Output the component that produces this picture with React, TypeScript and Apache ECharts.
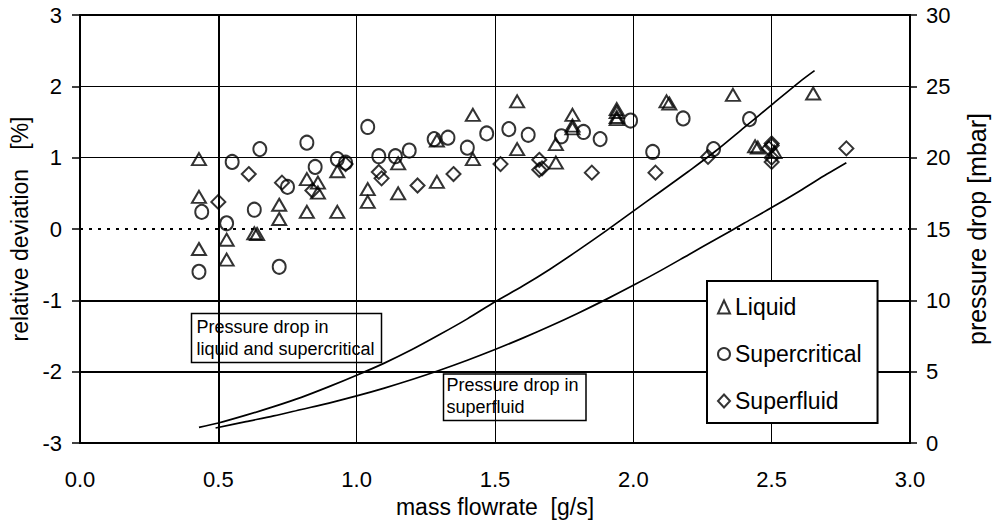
import React, { useEffect, useRef } from "react";
import * as echarts from "echarts";

const FONT = "'Liberation Sans', Arial, Helvetica, sans-serif";

const xTickValues = [0, 0.5, 1.0, 1.5, 2.0, 2.5, 3.0];
const leftTickValues = [-3, -2, -1, 0, 1, 2, 3];
const rightTickValues = [0, 5, 10, 15, 20, 25, 30];

// relative deviation [%] vs mass flowrate [g/s]
const liquidPoints: [number, number][] = [
  [0.43, 0.98], [0.43, 0.45], [0.43, -0.28], [0.53, -0.15], [0.53, -0.43],
  [0.63, -0.06], [0.64, -0.07], [0.72, 0.34], [0.72, 0.14], [0.82, 0.70],
  [0.82, 0.24], [0.86, 0.65], [0.86, 0.51], [0.93, 0.81], [0.93, 0.24],
  [1.04, 0.56], [1.04, 0.38], [1.15, 0.92], [1.15, 0.50], [1.29, 1.24],
  [1.29, 0.66], [1.42, 1.60], [1.42, 0.98], [1.58, 1.79], [1.58, 1.12],
  [1.72, 1.19], [1.72, 0.93], [1.78, 1.60], [1.78, 1.41], [1.78, 1.45],
  [1.94, 1.68], [1.94, 1.64], [1.94, 1.57], [1.94, 1.54], [2.12, 1.79],
  [2.13, 1.76], [2.36, 1.88], [2.44, 1.16], [2.45, 1.14], [2.51, 1.08],
  [2.65, 1.90],
];

const supercriticalPoints: [number, number][] = [
  [0.44, 0.24], [0.43, -0.60], [0.55, 0.94], [0.53, 0.08], [0.65, 1.12],
  [0.63, 0.27], [0.72, -0.53], [0.75, 0.59], [0.82, 1.21], [0.85, 0.87],
  [0.93, 0.98], [0.96, 0.93], [1.04, 1.43], [1.08, 1.02], [1.14, 1.02],
  [1.19, 1.10], [1.28, 1.26], [1.33, 1.28], [1.40, 1.14], [1.47, 1.34],
  [1.55, 1.40], [1.62, 1.32], [1.74, 1.30], [1.82, 1.36], [1.88, 1.26],
  [1.99, 1.52], [2.07, 1.08], [2.18, 1.55], [2.29, 1.12], [2.42, 1.54],
];

const superfluidPoints: [number, number][] = [
  [0.50, 0.38], [0.61, 0.77], [0.73, 0.65], [0.84, 0.54], [0.96, 0.91],
  [1.08, 0.80], [1.09, 0.71], [1.22, 0.61], [1.35, 0.77], [1.52, 0.91],
  [1.66, 0.97], [1.67, 0.85], [1.66, 0.83], [1.85, 0.79], [2.08, 0.79],
  [2.27, 1.01], [2.50, 1.20], [2.50, 1.17], [2.49, 1.13], [2.50, 1.00],
  [2.50, 0.94], [2.77, 1.13],
];

// pressure drop [mbar] vs mass flowrate [g/s]
const pressureLiquidX = [0.43, 0.5, 0.6, 0.7, 0.8, 0.9, 1.0, 1.1, 1.2, 1.3, 1.4, 1.5, 1.6, 1.7, 1.8, 1.9, 2.0, 2.1, 2.2, 2.3, 2.4, 2.5, 2.6, 2.655];
const pressureLiquidY = [1.1, 1.4, 1.95, 2.55, 3.2, 3.95, 4.75, 5.6, 6.55, 7.6, 8.7, 9.9, 11.0, 12.2, 13.5, 14.85, 16.25, 17.65, 19.05, 20.5, 22.1, 23.7, 25.3, 26.1];

const pressureSuperfluidX = [0.49, 0.6, 0.7, 0.8, 0.9, 1.0, 1.1, 1.2, 1.3, 1.4, 1.5, 1.6, 1.7, 1.8, 1.9, 2.0, 2.1, 2.2, 2.3, 2.4, 2.5, 2.6, 2.7, 2.77];
const pressureSuperfluidY = [1.05, 1.5, 1.9, 2.35, 2.8, 3.3, 3.85, 4.45, 5.1, 5.8, 6.55, 7.35, 8.2, 9.1, 10.05, 11.05, 12.1, 13.2, 14.3, 15.4, 16.5, 17.65, 18.85, 19.65];

const seriesNames = ["Liquid", "Supercritical", "Superfluid"];
const annotationLiquid = "Pressure drop in\nliquid and supercritical";
const annotationSuperfluid = "Pressure drop in\nsuperfluid";

export default function App() {
  const ref = useRef<HTMLDivElement>(null);

  useEffect(() => {
    if (!ref.current) return;
    const chart = echarts.init(ref.current, null, { renderer: "svg" });

    const markerStyle = {
      color: "rgba(0,0,0,0)",
      borderColor: "#000",
      borderWidth: 2,
    };

    const option: any = {
      animation: false,
      backgroundColor: "#fff",
      textStyle: { fontFamily: FONT },
      grid: {
        left: 80,
        right: 81,
        top: 15,
        bottom: 82,
        show: true,
        borderColor: "#000",
        borderWidth: 2,
        backgroundColor: "transparent",
      },
      legend: {
        data: seriesNames,
        orient: "vertical",
        left: 707,
        top: 281,
        backgroundColor: "#fff",
        borderColor: "#000",
        borderWidth: 2,
        borderRadius: 0,
        padding: [13, 16, 9, 10],
        itemGap: 21,
        itemWidth: 12,
        itemHeight: 13,
        textStyle: { fontSize: 23, color: "#000", fontFamily: FONT, lineHeight: 26 },
        z: 20,
      },
      xAxis: {
        type: "value",
        min: 0,
        max: 3,
        interval: 0.5,
        name: "mass flowrate  [g/s]",
        nameLocation: "middle",
        nameGap: 52,
        nameTextStyle: { fontSize: 23, color: "#000", fontFamily: FONT },
        axisLine: { show: true, onZero: false, lineStyle: { color: "#000", width: 2 } },
        axisTick: { show: false },
        axisLabel: {
          fontSize: 22,
          color: "#000",
          fontFamily: FONT,
          margin: 25,
          formatter: (v: number) => v.toFixed(1),
        },
        splitLine: { show: true, lineStyle: { color: "#000", width: 1 } },
        data: xTickValues,
      },
      yAxis: [
        {
          type: "value",
          min: leftTickValues[0],
          max: leftTickValues[leftTickValues.length - 1],
          interval: 1,
          position: "left",
          name: "relative deviation   [%]",
          nameLocation: "middle",
          nameGap: 46,
          nameTextStyle: { fontSize: 23, color: "#000", fontFamily: FONT },
          axisLine: { show: true, onZero: false, lineStyle: { color: "#000", width: 2 } },
          axisTick: { show: true, inside: false, length: 8, lineStyle: { color: "#000", width: 1.5 } },
          axisLabel: { fontSize: 22, color: "#000", fontFamily: FONT, margin: 18 },
          splitLine: {
            show: true,
            lineStyle: {
              color: leftTickValues.map((v) => (v === 0 ? "rgba(0,0,0,0)" : "#000")),
              width: 1,
            },
          },
        },
        {
          type: "value",
          min: rightTickValues[0],
          max: rightTickValues[rightTickValues.length - 1],
          interval: 5,
          position: "right",
          name: "pressure drop [mbar]",
          nameLocation: "middle",
          nameGap: 54,
          nameRotate: 90,
          nameTextStyle: {
            fontSize: 25,
            color: "#000",
            fontFamily: FONT,
            align: "center",
            verticalAlign: "top",
          },
          axisLine: { show: true, onZero: false, lineStyle: { color: "#000", width: 2 } },
          axisTick: { show: true, inside: false, length: 7, lineStyle: { color: "#000", width: 1.5 } },
          axisLabel: { fontSize: 22, color: "#000", fontFamily: FONT, margin: 16 },
          splitLine: { show: false },
        },
      ],
      graphic: [
        {
          type: "group",
          z: 30,
          children: [
            {
              type: "rect",
              shape: { x: 191.5, y: 313.5, width: 190, height: 49 },
              style: { fill: "#fff", stroke: "#000", lineWidth: 1.5 },
            },
            {
              type: "text",
              x: 196.5,
              y: 316,
              style: {
                text: annotationLiquid,
                fontSize: 18,
                lineHeight: 21.7,
                fill: "#000",
                fontFamily: FONT,
                verticalAlign: "top",
              },
            },
            {
              type: "rect",
              shape: { x: 443.5, y: 374, width: 142.5, height: 46.5 },
              style: { fill: "#fff", stroke: "#000", lineWidth: 1.5 },
            },
            {
              type: "text",
              x: 446.5,
              y: 374.5,
              style: {
                text: annotationSuperfluid,
                fontSize: 18,
                lineHeight: 21.7,
                fill: "#000",
                fontFamily: FONT,
                verticalAlign: "top",
              },
            },
          ],
        },
      ],
      series: [
        {
          name: "pressure-liquid",
          type: "line",
          yAxisIndex: 1,
          showSymbol: false,
          symbol: "none",
          smooth: 0.3,
          silent: true,
          lineStyle: { color: "#000", width: 1.7 },
          data: pressureLiquidX.map((x, i) => [x, pressureLiquidY[i]]),
          z: 3,
        },
        {
          name: "pressure-superfluid",
          type: "line",
          yAxisIndex: 1,
          showSymbol: false,
          symbol: "none",
          smooth: 0.3,
          silent: true,
          lineStyle: { color: "#000", width: 1.7 },
          data: pressureSuperfluidX.map((x, i) => [x, pressureSuperfluidY[i]]),
          z: 3,
        },
        {
          name: seriesNames[0],
          type: "scatter",
          symbol: "triangle",
          symbolSize: [14, 12],
          itemStyle: markerStyle,
          data: liquidPoints,
          z: 5,
          markLine: {
            silent: true,
            symbol: ["none", "none"],
            label: { show: false },
            data: [
              { yAxis: 0, lineStyle: { type: [3, 6], color: "#000", width: 1.8 } },
              { yAxis: -1, lineStyle: { type: "solid", color: "#000", width: 2 } },
              { yAxis: -2, lineStyle: { type: "solid", color: "#000", width: 2 } },
              { xAxis: 0.5, lineStyle: { type: "solid", color: "#000", width: 2 } },
            ],
          },
        },
        {
          name: seriesNames[1],
          type: "scatter",
          symbol: "circle",
          symbolSize: [13, 14],
          itemStyle: markerStyle,
          data: supercriticalPoints,
          z: 5,
        },
        {
          name: seriesNames[2],
          type: "scatter",
          symbol: "diamond",
          symbolSize: [14, 14],
          itemStyle: markerStyle,
          data: superfluidPoints,
          z: 5,
        },
      ],
    };

    chart.setOption(option);
    return () => chart.dispose();
  }, []);

  return (
    <div
      ref={ref}
      style={{ position: "fixed", left: 0, top: 0, width: 997, height: 525, background: "#fff" }}
    />
  );
}
